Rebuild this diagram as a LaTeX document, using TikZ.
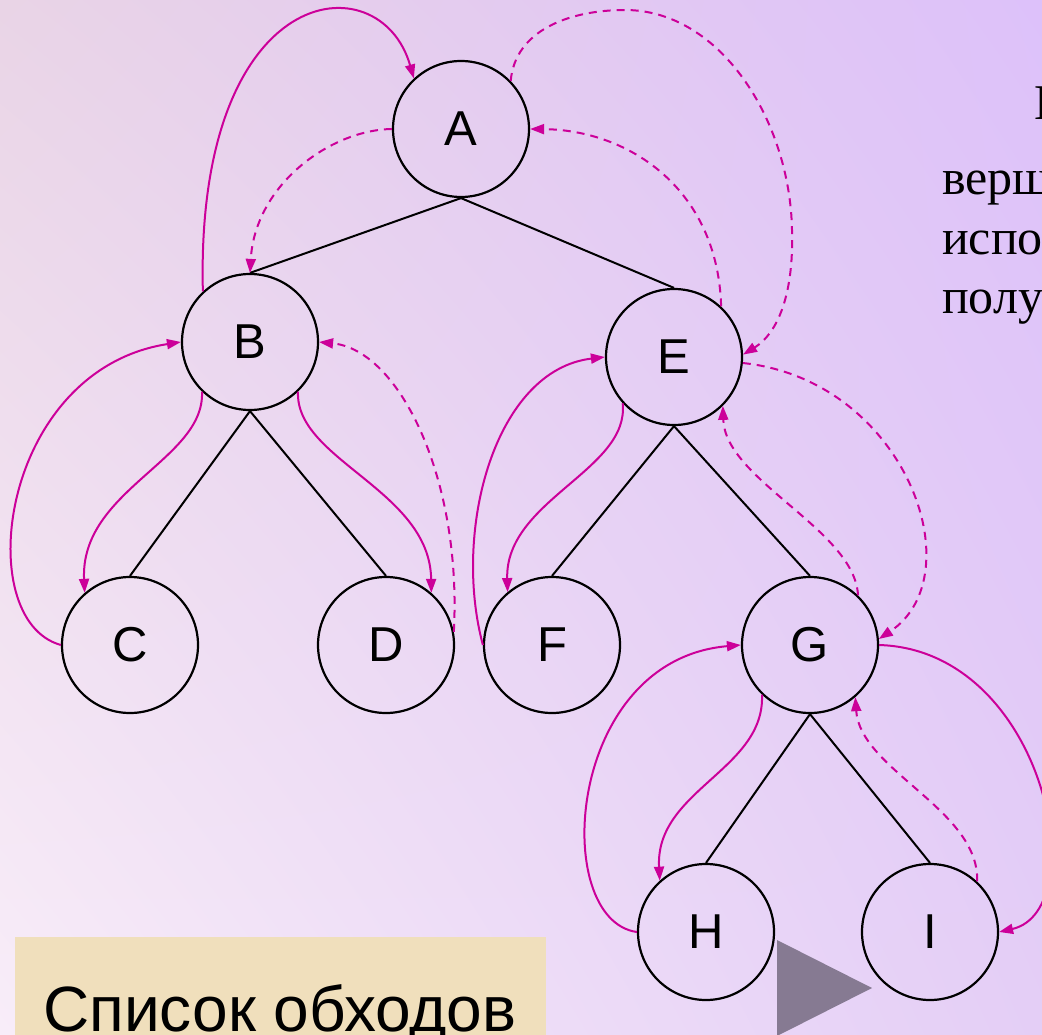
\documentclass[tikz,border=0pt]{standalone}
\usepackage{fontspec}
\setmainfont{Liberation Sans}
\newfontfamily\serifru{Liberation Serif}
\usetikzlibrary{arrows.meta,shadings}
\definecolor{mag}{RGB}{204,0,153}
\definecolor{bgTL}{RGB}{233,212,230}
\definecolor{bgTR}{RGB}{221,193,250}
\definecolor{bgBL}{RGB}{248,237,249}
\definecolor{bgBR}{RGB}{228,206,246}
\definecolor{boxfill}{RGB}{240,223,188}
\definecolor{trigray}{RGB}{134,122,146}
\begin{document}
\begin{tikzpicture}[x=1pt,y=-1pt,
  vert/.style={circle,draw=black,line width=2.2pt,minimum size=136pt,inner sep=0pt,font=\fontsize{49}{58}\selectfont},
  edge/.style={line width=2pt,black},
  go/.style={draw=mag,line width=2pt,-{Triangle[length=14pt,width=10pt]}},
  back/.style={go,dash pattern=on 8pt off 6pt},
  sidetext/.style={anchor=base west,inner sep=0pt,font=\serifru\fontsize{50}{60}\selectfont}]
\useasboundingbox (0,0) rectangle (1042,1035);
\clip (0,0) rectangle (1042,1035);
\shade[upper left=bgTL,upper right=bgTR,lower left=bgBL,lower right=bgBR] (0,0) rectangle (1042,1035);

% side text (clipped at the right edge, as in the reference)
\node[sidetext] (t0) at (1034,120) {Е};
\node[sidetext] (t1) at (942,195) {верш};
\node[sidetext] (t2) at (942,255) {испо};
\node[sidetext] (t3) at (942,313) {полу};

% bottom box
\fill[boxfill] (15,937) rectangle (546,1040);
\node[anchor=base west,inner sep=0pt,font=\fontsize{64}{72}\selectfont] (list) at (43,1031) {Список обходов};
\fill[trigray] (777,940) -- (872,988) -- (777,1036) -- cycle;

% vertices
\node[vert] (A) at (461,129) {A};
\node[vert] (B) at (250,342) {B};
\node[vert] (E) at (674,357) {E};
\node[vert] (C) at (130,645) {C};
\node[vert] (D) at (386,645) {D};
\node[vert] (F) at (552,645) {F};
\node[vert] (G) at (810,645) {G};
\node[vert] (H) at (706,932) {H};
\node[vert] (I) at (930,932) {I};

% tree edges
\draw[edge] (A.south) -- (B.north);
\draw[edge] (A.south) -- (E.north);
\draw[edge] (B.south) -- (C.north);
\draw[edge] (B.south) -- (D.north);
\draw[edge] (E.south) -- (F.north);
\draw[edge] (E.south) -- (G.north);
\draw[edge] (G.south) -- (H.north);
\draw[edge] (G.south) -- (I.north);

% traversal
\draw[go] (B.133) .. controls (195,-20) and (380,-40) .. (A.133);
\draw[back] (A.180) .. controls (330,130) and (255,185) .. (B.90);
\draw[go] (B.226) .. controls (205,460) and (80,490) .. (C.131);
\draw[go] (C.180) .. controls (-30,620) and (0,370) .. (B.180);
\draw[go] (B.314) .. controls (295,460) and (430,490) .. (D.49);
\draw[back] (D.11) .. controls (462,480) and (400,350) .. (B.0);
\draw[back] (E.47) .. controls (718,190) and (630,130) .. (A.0);
\draw[go] (F.180) .. controls (452,530) and (495,370) .. (E.180);
\draw[go] (E.222) .. controls (630,470) and (505,500) .. (F.130);
\draw[back] (A.44) .. controls (515,30) and (570,10) .. (625,10)
   .. controls (720,10) and (790,120) .. (792,230)
   .. controls (794,300) and (775,335) .. (E.2);
\draw[back] (E.-5) .. controls (905,380) and (975,575) .. (G.5);
\draw[back] (G.46) .. controls (855,530) and (725,480) .. (E.-45);
\draw[go] (G.0) .. controls (1045,650) and (1095,910) .. (I.0);
\draw[back] (I.47) .. controls (980,810) and (860,770) .. (G.-49);
\draw[go] (G.226) .. controls (765,770) and (655,790) .. (H.132);
\draw[go] (H.180) .. controls (550,920) and (565,660) .. (G.180);
\end{tikzpicture}
\end{document}
